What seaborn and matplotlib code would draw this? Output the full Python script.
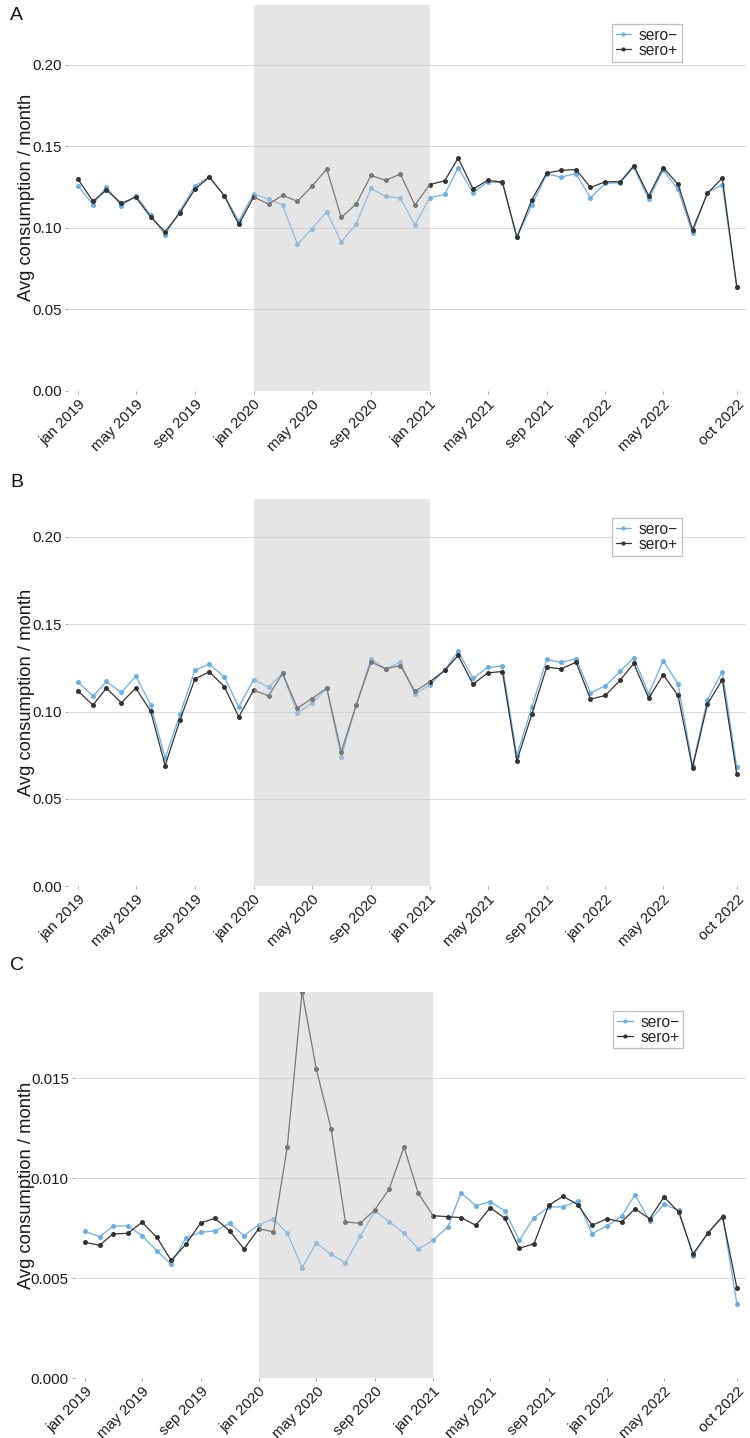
import numpy as np
import pandas as pd
import matplotlib
matplotlib.use("Agg")
import matplotlib.pyplot as plt
from matplotlib.lines import Line2D
import seaborn as sns

# monthly values, jan 2019 .. oct 2022
months = pd.date_range("2019-01-01", "2022-10-01", freq="MS")
groups = ["sero\u2212", "sero+"]

a_neg = [0.1256, 0.1141, 0.1250, 0.1133, 0.1196, 0.1078, 0.0955, 0.1104, 0.1256, 0.1311, 0.1196, 0.1041,
         0.1207, 0.1176, 0.1139, 0.0898, 0.0994, 0.1098, 0.0912, 0.1022, 0.1241, 0.1192, 0.1180, 0.1016,
         0.1184, 0.1204, 0.1368, 0.1215, 0.1280, 0.1276, 0.0941, 0.1137, 0.1329, 0.1311, 0.1331, 0.1184,
         0.1272, 0.1276, 0.1372, 0.1174, 0.1354, 0.1235, 0.0967, 0.1215, 0.1264, 0.0636]
a_pos = [0.1297, 0.1162, 0.1231, 0.1149, 0.1188, 0.1065, 0.0975, 0.1092, 0.1237, 0.1311, 0.1196, 0.1020,
         0.1188, 0.1145, 0.1198, 0.1162, 0.1254, 0.1360, 0.1063, 0.1145, 0.1321, 0.1290, 0.1329, 0.1139,
         0.1264, 0.1288, 0.1427, 0.1237, 0.1290, 0.1280, 0.0941, 0.1170, 0.1335, 0.1352, 0.1356, 0.1247,
         0.1282, 0.1282, 0.1380, 0.1196, 0.1368, 0.1266, 0.0988, 0.1211, 0.1305, 0.0638]

b_neg = [0.1168, 0.1088, 0.1172, 0.1109, 0.1202, 0.1040, 0.0733, 0.0985, 0.1237, 0.1271, 0.1198, 0.1027,
         0.1181, 0.1141, 0.1218, 0.0992, 0.1048, 0.1132, 0.0739, 0.1036, 0.1303, 0.1244, 0.1282, 0.1101,
         0.1153, 0.1237, 0.1344, 0.1189, 0.1252, 0.1260, 0.0748, 0.1025, 0.1298, 0.1281, 0.1302, 0.1107,
         0.1147, 0.1231, 0.1309, 0.1101, 0.1290, 0.1158, 0.0691, 0.1067, 0.1229, 0.0681]
b_pos = [0.1118, 0.1036, 0.1134, 0.1050, 0.1134, 0.1002, 0.0691, 0.0952, 0.1187, 0.1227, 0.1143, 0.0969,
         0.1122, 0.1090, 0.1218, 0.1019, 0.1074, 0.1134, 0.0769, 0.1036, 0.1284, 0.1244, 0.1263, 0.1115,
         0.1170, 0.1235, 0.1321, 0.1156, 0.1221, 0.1229, 0.0718, 0.0983, 0.1254, 0.1244, 0.1282, 0.1071,
         0.1092, 0.1181, 0.1275, 0.1076, 0.1210, 0.1092, 0.0677, 0.1042, 0.1183, 0.0641]

c_neg = [0.00735, 0.00708, 0.00760, 0.00763, 0.00713, 0.00638, 0.00570, 0.00702, 0.00730, 0.00737, 0.00775, 0.00713,
         0.00768, 0.00797, 0.00725, 0.00553, 0.00677, 0.00620, 0.00578, 0.00710, 0.00837, 0.00783, 0.00725, 0.00647,
         0.00690, 0.00757, 0.00928, 0.00863, 0.00883, 0.00837, 0.00690, 0.00803, 0.00857, 0.00857, 0.00887, 0.00723,
         0.00762, 0.00810, 0.00918, 0.00787, 0.00870, 0.00840, 0.00613, 0.00728, 0.00812, 0.00372]
c_pos = [0.00680, 0.00665, 0.00722, 0.00725, 0.00780, 0.00705, 0.00590, 0.00670, 0.00777, 0.00800, 0.00737, 0.00647,
         0.00748, 0.00732, 0.01158, 0.01933, 0.01545, 0.01247, 0.00782, 0.00775, 0.00843, 0.00947, 0.01157, 0.00925,
         0.00813, 0.00808, 0.00803, 0.00765, 0.00853, 0.00800, 0.00650, 0.00673, 0.00865, 0.00910, 0.00868, 0.00765,
         0.00798, 0.00782, 0.00847, 0.00798, 0.00907, 0.00830, 0.00622, 0.00725, 0.00808, 0.00452]

tick_dates = pd.to_datetime(["2019-01-01", "2019-05-01", "2019-09-01", "2020-01-01", "2020-05-01",
                             "2020-09-01", "2021-01-01", "2021-05-01", "2021-09-01", "2022-01-01",
                             "2022-05-01", "2022-10-01"])
tick_labels = [d.strftime("%b %Y").lower() for d in tick_dates]

palette = {groups[0]: "#6aaee6", groups[1]: "#333333"}

sns.set_theme(style="white")
plt.rcParams["font.family"] = ["Liberation Sans", "DejaVu Sans"]

W, H = 750, 1438
fig = plt.figure(figsize=(W / 100, H / 100), dpi=100)

# (label, neg, pos, left, right, top, bottom, ymax, yticks, fmt)
panels = [
    ("A", a_neg, a_pos, 68, 746, 5, 390.7, 0.2366, [0, 0.05, 0.10, 0.15, 0.20], "{:.2f}", 86 - 78),
    ("B", b_neg, b_pos, 68, 746, 499, 886.3, 0.2216, [0, 0.05, 0.10, 0.15, 0.20], "{:.2f}", 86 - 76),
    ("C", c_neg, c_pos, 75, 746, 991.7, 1378.3, 0.01933, [0, 0.005, 0.010, 0.015], "{:.3f}", 86 - 86),
]
label_y = [15, 483, 966]

for i, (lab, neg, pos, l, r, t, b, ymax, yt, fmt, _) in enumerate(panels):
    ax = fig.add_axes([l / W, 1 - b / H, (r - l) / W, (b - t) / H])
    df = pd.DataFrame({
        "month": np.concatenate([months, months]),
        "value": neg + pos,
        "group": [groups[0]] * len(months) + [groups[1]] * len(months),
    })
    sns.lineplot(data=df, x="month", y="value", hue="group", hue_order=groups, palette=palette,
                 marker="o", markersize=3.6, markeredgewidth=0, linewidth=0.9, legend=False, ax=ax, zorder=2)
    ax.axvspan(pd.Timestamp("2020-01-01"), pd.Timestamp("2021-01-01"), color="#c8c8c8", alpha=0.46,
               lw=0, zorder=3)
    span = (months[-1] - months[0]).days
    ax.set_xlim(months[0] - pd.Timedelta(days=span * 0.0152), months[-1] + pd.Timedelta(days=span * 0.014))
    ax.set_ylim(0, ymax)
    ax.set_yticks(yt)
    ax.set_yticklabels([fmt.format(v) for v in yt], fontsize=10.8, color="#1a1a1a")
    ax.set_xticks(tick_dates)
    ax.set_xticklabels(tick_labels, rotation=45, ha="right", rotation_mode="anchor",
                       fontsize=10.8, color="#1a1a1a")
    ax.tick_params(axis="both", length=2.5, width=0.6, color="#999999", pad=2, bottom=True, left=True)
    for s in ax.spines.values():
        s.set_visible(False)
    ax.yaxis.grid(True, color="#dcdcdc", linewidth=0.8, zorder=0)
    ax.xaxis.grid(False)
    ax.set_axisbelow(True)
    ax.set_xlabel("")
    ax.set_ylabel("Avg consumption / month", fontsize=13.2, color="#1a1a1a")
    ax.yaxis.set_label_coords((35 - l) / (r - l), 0.5)

    handles = [Line2D([], [], color=palette[g], marker="o", markersize=3, markeredgewidth=0, linewidth=0.9)
               for g in groups]
    leg = ax.legend(handles, groups, loc="upper left", bbox_to_anchor=(0.802, 0.951), fontsize=11.2,
                    frameon=True, fancybox=False, handlelength=1.0, handletextpad=0.5,
                    borderpad=0.25, labelspacing=0.0, borderaxespad=0)
    leg.get_frame().set_edgecolor("#b0b0b0")
    leg.get_frame().set_linewidth(0.9)
    leg.set_zorder(5)

    fig.text(10 / W, 1 - label_y[i] / H, lab, fontsize=14, ha="left", va="center", color="#111111")

fig.savefig("out.png", dpi=100)
